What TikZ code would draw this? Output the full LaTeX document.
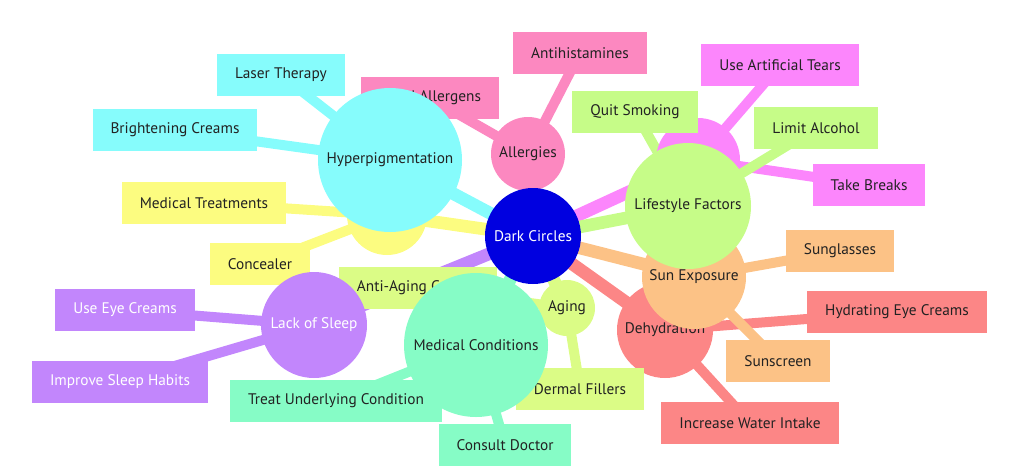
\documentclass[tikz,border=0pt]{standalone}
\usepackage{fontspec}
\setmainfont{PT Sans}
\usetikzlibrary{backgrounds}
\definecolor{ink}{HTML}{222222}
\definecolor{cblue}{HTML}{0000E0}
\definecolor{ccyan}{HTML}{86FCFC}
\definecolor{cyellow}{HTML}{FCFC80}
\definecolor{cpink}{HTML}{FC88C0}
\definecolor{cmagenta}{HTML}{FC86FC}
\definecolor{cgreen}{HTML}{C6FC88}
\definecolor{corange}{HTML}{FCC286}
\definecolor{csalmon}{HTML}{FC8686}
\definecolor{clime}{HTML}{DBFC86}
\definecolor{cmint}{HTML}{86FCC6}
\definecolor{cpurple}{HTML}{C286FC}
\begin{document}
\begin{tikzpicture}[x=0.75pt,y=-0.75pt,
  leaf/.style={rectangle,fill=#1,inner xsep=13.5pt,inner ysep=0pt,minimum height=32pt,text=ink,font=\fontsize{11.5}{13}\selectfont},
  hub/.style={circle,fill=#1,inner sep=0pt,text=ink,font=\fontsize{11.5}{13}\selectfont},
  trunk/.style={draw=#1,line width=9.5pt},
  twig/.style={draw=#1,line width=7.5pt}]
\useasboundingbox (0,0) rectangle (1024,475);
\node[hub=cyellow,minimum size=60pt] (cosmetic) at (387,215) {};
\node[leaf=cyellow] (medtreat) at (204,203) {Medical Treatments};
\node[leaf=cyellow] (concealer) at (260,264) {Concealer};
\node[hub=cpink,minimum size=55.5pt] (allergies) at (528,154) {Allergies};
\node[leaf=cpink] (antihist) at (580,53) {Antihistamines};
\node[leaf=cpink] (avoid) at (430,98) {Avoid Allergens};
\node[hub=ccyan,minimum size=108pt] (hyper) at (390,160) {Hyperpigmentation};
\node[leaf=ccyan] (laser) at (281,75) {Laser Therapy};
\node[leaf=ccyan] (bright) at (175,130) {Brightening Creams};
\node[hub=cmagenta,minimum size=63pt] (eye) at (698,160) {};
\node[leaf=cmagenta] (tears) at (780,65) {Use Artificial Tears};
\node[leaf=cmagenta] (breaks) at (869,185) {Take Breaks};
\node[hub=csalmon,minimum size=72pt] (dehyd) at (665,330) {Dehydration};
\node[leaf=csalmon] (hydcream) at (897,312) {Hydrating Eye Creams};
\node[leaf=csalmon] (water) at (750,423) {Increase Water Intake};
\node[hub=corange,minimum size=78pt] (sun) at (694,277) {Sun Exposure};
\node[leaf=corange] (glasses) at (840,251) {Sunglasses};
\node[leaf=corange] (screen) at (778,361) {Sunscreen};
\node[hub=cgreen,minimum size=94.5pt] (life) at (688,206) {Lifestyle Factors};
\node[leaf=cgreen] (smoking) at (635,112) {Quit Smoking};
\node[leaf=cgreen] (alcohol) at (816,128) {Limit Alcohol};
\node[hub=clime,minimum size=42pt] (aging) at (567,308) {Aging};
\node[leaf=clime] (antiaging) at (418,288) {Anti-Aging Creams};
\node[leaf=clime] (fillers) at (580,389) {Dermal Fillers};
\node[hub=cpurple,minimum size=79.5pt,text=white] (sleep) at (314,325) {Lack of Sleep};
\node[leaf=cpurple,text=white] (eyecream) at (125,310) {Use Eye Creams};
\node[leaf=cpurple,text=white] (habits) at (120,382) {Improve Sleep Habits};
\node[hub=cmint,minimum size=108pt] (medcond) at (476,345) {Medical Conditions};
\node[leaf=cmint] (treat) at (336,401) {Treat Underlying Condition};
\node[leaf=cmint] (doctor) at (505,445) {Consult Doctor};
\node[hub=cblue,minimum size=72pt,text=white] (root) at (533,236) {Dark Circles};
\begin{scope}[on background layer]
\draw[trunk=ccyan] (root.center) -- (hyper.center);
\draw[trunk=cyellow] (root.center) -- (cosmetic.center);
\draw[trunk=cpink] (root.center) -- (allergies.center);
\draw[trunk=cmagenta] (root.center) -- (eye.center);
\draw[trunk=cgreen] (root.center) -- (life.center);
\draw[trunk=csalmon] (root.center) -- (dehyd.center);
\draw[trunk=corange] (root.center) -- (sun.center);
\draw[trunk=clime] (root.center) -- (aging.center);
\draw[trunk=cpurple] (root.center) -- (sleep.center);
\draw[trunk=cmint] (root.center) -- (medcond.center);
\draw[twig=cyellow] (cosmetic.center) -- (medtreat.center);
\draw[twig=cyellow] (cosmetic.center) -- (concealer.center);
\draw[twig=cpink] (allergies.center) -- (antihist.center);
\draw[twig=cpink] (allergies.center) -- (avoid.center);
\draw[twig=ccyan] (hyper.center) -- (laser.center);
\draw[twig=ccyan] (hyper.center) -- (bright.center);
\draw[twig=cmagenta] (eye.center) -- (tears.center);
\draw[twig=cmagenta] (eye.center) -- (breaks.center);
\draw[twig=csalmon] (dehyd.center) -- (hydcream.center);
\draw[twig=csalmon] (dehyd.center) -- (water.center);
\draw[twig=corange] (sun.center) -- (glasses.center);
\draw[twig=corange] (sun.center) -- (screen.center);
\draw[twig=cgreen] (life.center) -- (smoking.center);
\draw[twig=cgreen] (life.center) -- (alcohol.center);
\draw[twig=clime] (aging.center) -- (antiaging.center);
\draw[twig=clime] (aging.center) -- (fillers.center);
\draw[twig=cpurple] (sleep.center) -- (eyecream.center);
\draw[twig=cpurple] (sleep.center) -- (habits.center);
\draw[twig=cmint] (medcond.center) -- (treat.center);
\draw[twig=cmint] (medcond.center) -- (doctor.center);
\end{scope}
\end{tikzpicture}
\end{document}
